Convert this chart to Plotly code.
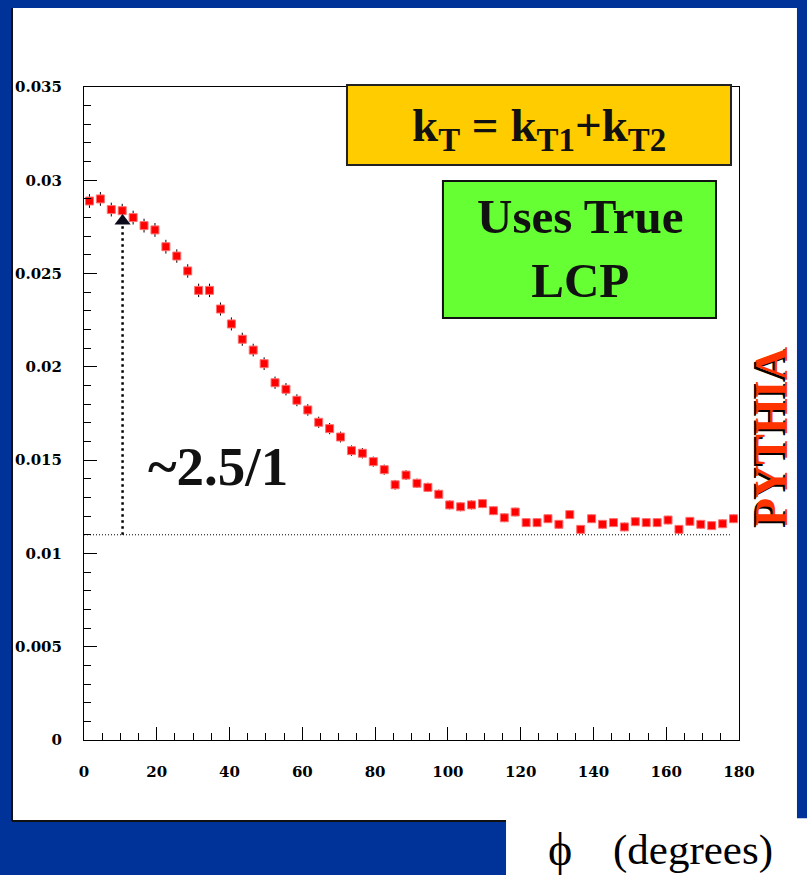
import plotly.graph_objects as go

# ---- data ----
phi = [1.5, 4.5, 7.5, 10.5, 13.5, 16.5, 19.5, 22.5, 25.5, 28.5,
       31.5, 34.5, 37.5, 40.5, 43.5, 46.5, 49.5, 52.5, 55.5, 58.5,
       61.5, 64.5, 67.5, 70.5, 73.5, 76.5, 79.5, 82.5, 85.5, 88.5,
       91.5, 94.5, 97.5, 100.5, 103.5, 106.5, 109.5, 112.5, 115.5, 118.5,
       121.5, 124.5, 127.5, 130.5, 133.5, 136.5, 139.5, 142.5, 145.5, 148.5,
       151.5, 154.5, 157.5, 160.5, 163.5, 166.5, 169.5, 172.5, 175.5, 178.5]

counts = [0.02889, 0.02900, 0.02843, 0.02837, 0.02800, 0.02757, 0.02734, 0.02644, 0.02594, 0.02514,
          0.02410, 0.02410, 0.02310, 0.02230, 0.02148, 0.02090, 0.02017, 0.01915, 0.01880, 0.01821,
          0.01769, 0.01703, 0.01669, 0.01624, 0.01551, 0.01537, 0.01492, 0.01449, 0.01368, 0.01420,
          0.01376, 0.01354, 0.01317, 0.01260, 0.01250, 0.01260, 0.01267, 0.01229, 0.01191, 0.01222,
          0.01165, 0.01165, 0.01186, 0.01156, 0.01208, 0.01129, 0.01186, 0.01156, 0.01165, 0.01142,
          0.01170, 0.01165, 0.01165, 0.01179, 0.01129, 0.01172, 0.01156, 0.01149, 0.01159, 0.01186]

errors = [0.00037, 0.00037, 0.00037, 0.00037, 0.00037, 0.00037, 0.00037, 0.00037, 0.00036, 0.00036,
          0.00036, 0.00036, 0.00035, 0.00035, 0.00035, 0.00034, 0.00034, 0.00033, 0.00033, 0.00032,
          0.00031, 0.00030, 0.00030, 0.00029, 0.00028, 0.00028, 0.00027, 0.00027, 0.00026, 0.00026,
          0.00025, 0.00025, 0.00025, 0.00024, 0.00024, 0.00024, 0.00024, 0.00023, 0.00023, 0.00023,
          0.00023, 0.00023, 0.00023, 0.00023, 0.00023, 0.00023, 0.00023, 0.00023, 0.00023, 0.00023,
          0.00023, 0.00023, 0.00023, 0.00023, 0.00023, 0.00023, 0.00023, 0.00023, 0.00023, 0.00023]

x_tickvals = [0, 20, 40, 60, 80, 100, 120, 140, 160, 180]
x_ticktext = ["0", "20", "40", "60", "80", "100", "120", "140", "160", "180"]
y_tickvals = [0, 0.005, 0.01, 0.015, 0.02, 0.025, 0.03, 0.035]
y_ticktext = ["0", "0.005", "0.01", "0.015", "0.02", "0.025", "0.03", "0.035"]

baseline_level = 0.011      # dotted reference level
peak_phi = 10.6             # position of the arrow
arrow_tip_level = 0.02782

BLUE = "#003399"

fig = go.Figure()

fig.add_trace(go.Scatter(
    x=phi, y=counts, mode="markers",
    marker=dict(symbol="square", size=8, color="#ff0000",
                line=dict(color="#ff7070", width=1)),
    error_y=dict(type="data", array=errors, visible=True,
                 color="black", thickness=1, width=0),
    showlegend=False, hoverinfo="skip",
))

fig.add_trace(go.Scatter(
    x=[peak_phi], y=[arrow_tip_level], mode="markers",
    marker=dict(symbol="triangle-up", size=14, color="#0a0a1a"),
    showlegend=False, hoverinfo="skip",
))

tickfont = dict(family="DejaVu Serif", size=15, color="black", weight="bold")

fig.update_xaxes(
    range=[0, 180], tickvals=x_tickvals, ticktext=x_ticktext,
    ticks="inside", ticklen=13, tickwidth=1, tickcolor="black",
    minor=dict(dtick=5, ticks="inside", ticklen=7, tickcolor="black", tickwidth=1),
    showgrid=False, zeroline=False, showline=True, linecolor="black",
    linewidth=1, mirror=True, tickfont=tickfont, ticklabelstandoff=18,
)
fig.update_yaxes(
    range=[0, 0.035], tickvals=y_tickvals, ticktext=y_ticktext,
    ticks="inside", ticklen=13, tickwidth=1, tickcolor="black",
    minor=dict(dtick=0.001, ticks="inside", ticklen=7, tickcolor="black", tickwidth=1),
    showgrid=False, zeroline=False, showline=True, linecolor="black",
    linewidth=1, mirror=True, tickfont=tickfont, ticklabelstandoff=18,
)

shapes = [
    # white slide panel
    dict(type="rect", xref="paper", yref="paper", x0=-0.1099, x1=1.0885,
         y0=-0.124, y1=1.121, fillcolor="white", line=dict(width=0), layer="below"),
    # white box under the panel (axis title area)
    dict(type="rect", xref="paper", yref="paper", x0=0.6443, x1=1.11,
         y0=-0.21, y1=-0.12, fillcolor="white", line=dict(width=0), layer="below"),
    # dark edges of the panel
    dict(type="line", xref="paper", yref="paper", x0=-0.1099, x1=-0.1099,
         y0=-0.124, y1=1.121, line=dict(color="#111111", width=2), layer="below"),
    dict(type="line", xref="paper", yref="paper", x0=-0.1099, x1=0.6443,
         y0=-0.124, y1=-0.124, line=dict(color="#111111", width=2), layer="below"),
    # dotted reference lines
    dict(type="line", xref="x", yref="y", x0=0, x1=177.5, y0=baseline_level, y1=baseline_level,
         line=dict(color="black", width=1, dash="1px,2px")),
    dict(type="line", xref="x", yref="y", x0=peak_phi, x1=peak_phi, y0=baseline_level,
         y1=arrow_tip_level - 0.0002, line=dict(color="black", width=2.5, dash="2.5px,3.5px")),
    # yellow box
    dict(type="rect", xref="paper", yref="paper", x0=0.4015, x1=0.9878, y0=0.8806, y1=1.0031,
         fillcolor="#ffcc00", line=dict(color="#222222", width=2)),
    # green box
    dict(type="rect", xref="paper", yref="paper", x0=0.548, x1=0.9649, y0=0.6462, y1=0.856,
         fillcolor="#66ff33", line=dict(color="#111111", width=2)),
]

serif = "Liberation Serif"
annotations = [
    dict(text="k<sub>T</sub> = k<sub>T1</sub>+k<sub>T2</sub>", xref="paper", yref="paper",
         x=0.6947, y=0.937, xanchor="center", yanchor="middle", showarrow=False,
         font=dict(family=serif, size=47, color="#111111", weight="bold")),
    dict(text="Uses True<br>LCP", xref="paper", yref="paper",
         x=0.7565, y=0.753, xanchor="center", yanchor="middle", showarrow=False,
         font=dict(family=serif, size=49, color="#111111", weight="bold")),
    dict(text="~2.5/1", xref="paper", yref="paper",
         x=0.2046, y=0.4196, xanchor="center", yanchor="middle", showarrow=False,
         font=dict(family=serif, size=55, color="#111111", weight="bold")),
    dict(text="PYTHIA", xref="paper", yref="paper", textangle=-90,
         x=1.0489, y=0.464, xanchor="center", yanchor="middle", showarrow=False,
         xshift=-2, yshift=-2,
         font=dict(family=serif, size=46, color="black", weight="bold")),
    dict(text="PYTHIA", xref="paper", yref="paper", textangle=-90,
         x=1.0489, y=0.464, xanchor="center", yanchor="middle", showarrow=False,
         font=dict(family=serif, size=46, color="#ff3300", weight="bold")),
    dict(text="\u03d5", xref="paper", yref="paper",
         x=0.7267, y=-0.167, xanchor="center", yanchor="middle", showarrow=False,
         font=dict(family=serif, size=46, color="black")),
    dict(text="(degrees)", xref="paper", yref="paper",
         x=0.9298, y=-0.168, xanchor="center", yanchor="middle", showarrow=False,
         font=dict(family=serif, size=43, color="black")),
]

fig.update_layout(
    width=807, height=875,
    margin=dict(l=84, r=68, t=87, b=135, autoexpand=False),
    paper_bgcolor=BLUE, plot_bgcolor="white",
    shapes=shapes, annotations=annotations,
    showlegend=False,
)

fig.write_html("out.html")
